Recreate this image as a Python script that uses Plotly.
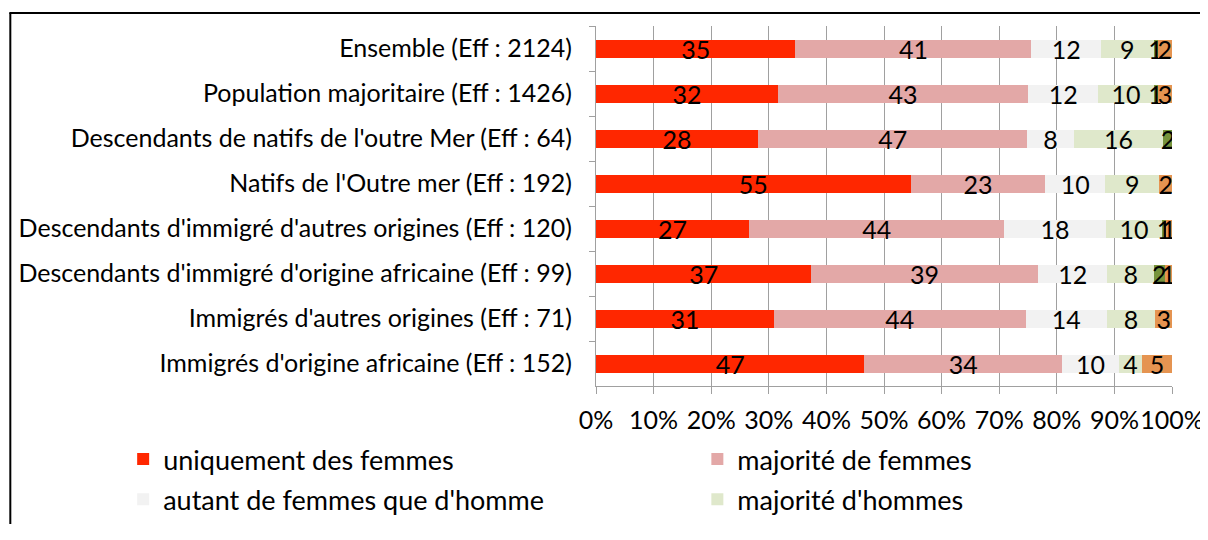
import plotly.graph_objects as go

categories = [
    "Ensemble (Eff : 2124)",
    "Population majoritaire (Eff : 1426)",
    "Descendants de natifs de l'outre Mer (Eff : 64)",
    "Natifs de l'Outre mer (Eff : 192)",
    "Descendants d'immigré d'autres origines (Eff : 120)",
    "Descendants d'immigré d'origine africaine (Eff : 99)",
    "Immigrés d'autres origines (Eff : 71)",
    "Immigrés d'origine africaine (Eff : 152)",
]

uniquement_femmes = [34.6, 31.6, 28.1, 54.6, 26.6, 37.4, 30.9, 46.6]
majorite_femmes = [41.0, 43.4, 46.8, 23.4, 44.3, 39.3, 43.7, 34.3]
autant = [12.1, 12.2, 8.0, 10.4, 17.6, 12.1, 14.1, 9.9]
majorite_hommes = [9.1, 9.6, 15.6, 9.4, 9.8, 8.1, 8.4, 4.0]
uniquement_hommes = [0.7, 0.7, 1.6, None, 0.6, 1.8, None, None]
non_reponse = [2.45, 2.6, None, 2.2, 1.1, 1.3, 2.9, 5.2]

series = [
    ("uniquement des femmes", uniquement_femmes, "#FF2700", True, "legend"),
    ("majorité de femmes", majorite_femmes, "#E3A8A7", True, "legend2"),
    ("autant de femmes que d'homme", autant, "#F2F2F2", True, "legend"),
    ("majorité d'hommes", majorite_hommes, "#DFE8CB", True, "legend2"),
    ("uniquement des hommes", uniquement_hommes, "#77933C", False, "legend"),
    ("non réponse", non_reponse, "#E59451", False, "legend2"),
]

FONT = "Lato"
FS = 25
LFS = 27
# page body has an 8px margin: figure pixels = page pixels - 8
W, H = 1198, 516
ML, MT = 587.5, 18
PLOT_RIGHT, PLOT_BOTTOM = 1164.3, 378
MR, MB = W - PLOT_RIGHT, H - PLOT_BOTTOM
PW = W - ML - MR
PH = H - MT - MB


def px_x(p):
    return (p - ML) / PW


def px_y(p):
    return (H - MB - p) / PH


fig = go.Figure()
for name, vals, color, show, leg in series:
    fig.add_trace(go.Bar(
        y=categories, x=vals, name=name, orientation="h",
        marker=dict(color=color, line=dict(width=0)),
        texttemplate="%{x:.0f}", textposition="inside", textangle=0,
        insidetextanchor="middle", constraintext="none",
        insidetextfont=dict(color="black", size=FS, family=FONT),
        showlegend=show, legend=leg, legendgroup=name,
        hoverinfo="skip",
    ))

fig.update_layout(
    width=W, height=H,
    margin=dict(l=ML, r=MR, t=MT, b=MB, pad=0, autoexpand=False),
    barmode="stack", bargap=0.6,
    plot_bgcolor="white", paper_bgcolor="white",
    font=dict(family=FONT, size=FS, color="black"),
    xaxis=dict(
        range=[0, 100], tickvals=list(range(0, 101, 10)),
        ticktext=[f"{v}%" for v in range(0, 101, 10)],
        tickangle=0, ticklabeloverflow="allow",
        showgrid=True, gridcolor="#A0A0A0", gridwidth=1.3,
        showline=True, linecolor="#A0A0A0", linewidth=1.3,
        ticks="outside", ticklen=7, tickcolor="#A0A0A0", tickwidth=1.3,
        zeroline=False, tickfont=dict(size=FS, family=FONT),
        ticklabelstandoff=5,
    ),
    yaxis=dict(
        autorange="reversed", showline=True, linecolor="#A0A0A0", linewidth=1.3,
        ticks="outside", ticklen=6, tickcolor="#A0A0A0", tickwidth=1.3,
        tickson="boundaries", showgrid=False, ticklabelstandoff=18,
        tickfont=dict(size=FS, family=FONT),
    ),
    legend=dict(
        x=px_x(114), xanchor="left", y=px_y(427), yanchor="top",
        bgcolor="rgba(0,0,0,0)", tracegroupgap=2,
        font=dict(size=LFS, family=FONT),
    ),
    legend2=dict(
        x=px_x(689), xanchor="left", y=px_y(427), yanchor="top",
        bgcolor="rgba(0,0,0,0)", tracegroupgap=2,
        font=dict(size=LFS, family=FONT),
    ),
    shapes=[
        dict(type="line", xref="paper", yref="paper",
             x0=px_x(1), x1=px_x(1), y0=px_y(5), y1=px_y(H + 20),
             line=dict(color="black", width=2), layer="above"),
        dict(type="line", xref="paper", yref="paper",
             x0=px_x(0), x1=px_x(W + 20), y0=px_y(5), y1=px_y(5),
             line=dict(color="black", width=2), layer="above"),
    ],
)

fig.write_html("out.html")
